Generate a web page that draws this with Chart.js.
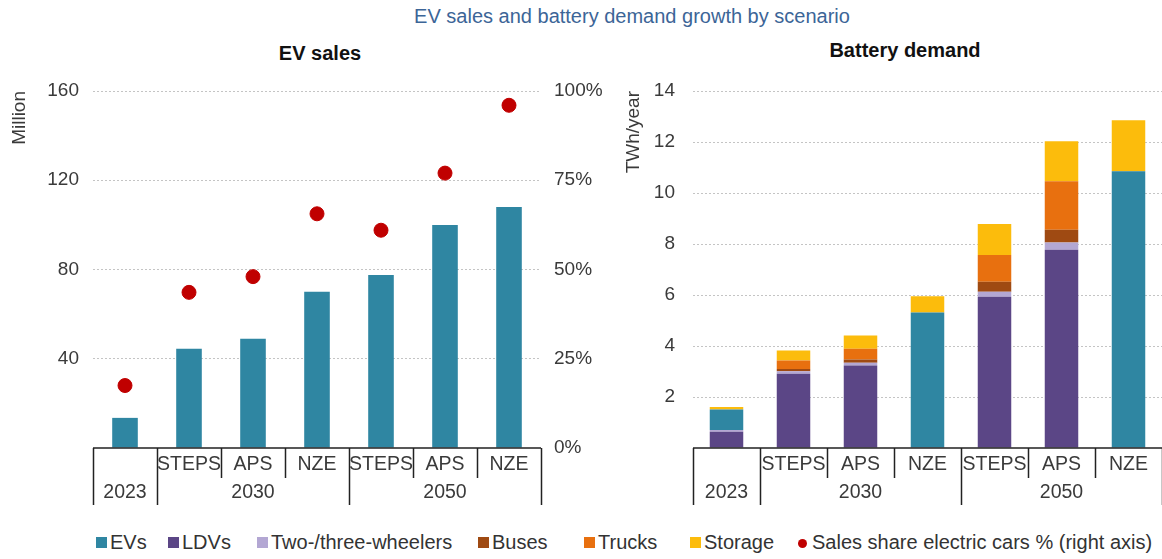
<!DOCTYPE html>
<html>
<head>
<meta charset="utf-8">
<script src="https://cdn.jsdelivr.net/npm/chart.js@4"></script>
<style>
  body { margin: 0; width: 1162px; height: 559px; overflow: hidden; background: #fff; font-family: "Liberation Sans", Arial, sans-serif; position: relative; }
  #title { position: absolute; top: 5px; left: 0; width: 1264px; text-align: center; color: #3c6597; font-size: 20px; }
  .sub { position: absolute; top: 42px; font-weight: bold; font-size: 20px; color: #111; text-align: center; }
  #wrapL { position: absolute; left: 0; top: 0; width: 620px; height: 520px; }
  #wrapR { position: absolute; left: 620px; top: 0; width: 542px; height: 520px; }
  #legend { position: absolute; top: 531px; left: 0; width: 1162px; height: 26px; font-size: 20px; color: #333; }
  .item { position: absolute; top: 0; white-space: nowrap; }
  .sw { display: inline-block; width: 11px; height: 11px; margin-right: 3px; vertical-align: 1px; }
  .dot { border-radius: 50%; width: 9px; height: 9px; margin-right: 5px; }
</style>
</head>
<body>
<div id="title">EV sales and battery demand growth by scenario</div>
<div class="sub" style="left:220px;width:200px;">EV sales</div>
<div class="sub" style="left:805px;width:200px;top:39px;">Battery demand</div>
<div id="wrapL"><canvas id="evChart"></canvas></div>
<div id="wrapR"><canvas id="batChart"></canvas></div>
<div id="legend"></div>
<script>
// categories
const xLabels = ['2023', '2030 STEPS', '2030 APS', '2030 NZE', '2050 STEPS', '2050 APS', '2050 NZE'];
const scenarioLabels = ['', 'STEPS', 'APS', 'NZE', 'STEPS', 'APS', 'NZE'];
const groupLabels = ['2023', '2030', '2050'];
const groupStart = [0, 1, 4];
const groupEnd = [0, 3, 6];

// EV sales (million) and sales share (%)
const evSales = [13.5, 44.5, 49, 70, 77.5, 100, 108];
const salesShare = [17.5, 43.6, 48, 65.6, 61, 77, 96];

// battery demand (TWh/year)
const batLDVs = [0.64, 2.91, 3.24, 0, 5.93, 7.77, 0];
const batTwoThree = [0.07, 0.1, 0.1, 0, 0.2, 0.29, 0];
const batBuses = [0, 0.09, 0.13, 0, 0.39, 0.5, 0];
const batTrucks = [0, 0.33, 0.42, 0, 1.05, 1.9, 0];
const batEVs = [0.8, 0, 0, 5.31, 0, 0, 10.85];
const batStorage = [0.1, 0.39, 0.52, 0.64, 1.21, 1.57, 2.0];

const leftTicks = [40, 80, 120, 160];

const colors = {
  ev: '#2f86a2', ldv: '#5b4686', two: '#b3a7d3', bus: '#9f4a12',
  truck: '#e8700f', storage: '#fcbc0c', red: '#c00000'
};

const tickFont = { family: 'Liberation Sans', size: 19 };
const tickColor = '#3a3a3a';

// draws the two-row category table under the x axis
const axisTable = {
  id: 'axisTable',
  afterDraw(chart) {
    const x = chart.scales.x, area = chart.chartArea, c = chart.ctx;
    const step = x.getPixelForValue(1) - x.getPixelForValue(0);
    const edge = i => x.getPixelForValue(i) - step / 2;
    const b = area.bottom;
    c.save();
    c.strokeStyle = '#222';
    c.lineWidth = 1.5;
    c.beginPath();
    c.moveTo(area.left, b); c.lineTo(area.right, b);
    for (let i = 0; i <= xLabels.length; i++) {
      const full = groupStart.includes(i) || i === xLabels.length;
      const px = Math.round(edge(i)) + 0.5;
      c.moveTo(px, b); c.lineTo(px, b + (full ? 57 : 30));
    }
    c.stroke();
    c.fillStyle = tickColor;
    c.font = '19.5px "Liberation Sans"';
    c.textAlign = 'center';
    c.textBaseline = 'middle';
    scenarioLabels.forEach((s, i) => c.fillText(s, x.getPixelForValue(i), b + 17));
    groupLabels.forEach((g, k) => {
      const mid = (x.getPixelForValue(groupStart[k]) + x.getPixelForValue(groupEnd[k])) / 2;
      c.fillText(g, mid, b + 45);
    });
    c.restore();
  }
};

const gridColor = ctx => ctx.tick.value === 0 ? 'rgba(0,0,0,0)' : '#c4c4c4';

new Chart(document.getElementById('evChart'), {
  data: {
    labels: xLabels,
    datasets: [
      { type: 'line', label: 'Sales share electric cars % (right axis)', data: salesShare, yAxisID: 'y1',
        showLine: false, pointRadius: 7, pointBackgroundColor: colors.red, pointBorderColor: colors.red, order: 0 },
      { type: 'bar', label: 'EVs', data: evSales, yAxisID: 'y', backgroundColor: colors.ev,
        barPercentage: 0.4, categoryPercentage: 1, order: 1 }
    ]
  },
  options: {
    responsive: true, maintainAspectRatio: false, animation: false,
    layout: { padding: { top: 91, left: 8, right: 0, bottom: 0 } },
    plugins: { legend: { display: false }, tooltip: { enabled: false } },
    scales: {
      x: { offset: true, grid: { display: false }, border: { display: false }, ticks: { display: false },
           afterFit: s => { s.height = 72; } },
      y: { min: 0, max: 160, afterBuildTicks: s => { s.ticks = [0].concat(leftTicks).map(v => ({ value: v })); },
           ticks: { font: tickFont, color: tickColor, padding: 14, callback: v => v === 0 ? '' : v },
           grid: { color: gridColor, drawTicks: false, lineWidth: 1 },
           border: { display: false, dash: [2, 2] },
           title: { display: true, text: 'Million', align: 'end', font: tickFont, color: tickColor, padding: 0 },
           afterFit: s => { s.width = 85; } },
      y1: { position: 'right', min: 0, max: 100,
            ticks: { stepSize: 25, font: tickFont, color: tickColor, padding: 13, callback: v => v + '%' },
            grid: { drawOnChartArea: false, drawTicks: false }, border: { display: false },
            afterFit: s => { s.width = 79; } }
    }
  },
  plugins: [axisTable]
});

new Chart(document.getElementById('batChart'), {
  type: 'bar',
  data: {
    labels: xLabels,
    datasets: [
      { label: 'LDVs', data: batLDVs, backgroundColor: colors.ldv },
      { label: 'Two-/three-wheelers', data: batTwoThree, backgroundColor: colors.two },
      { label: 'Buses', data: batBuses, backgroundColor: colors.bus },
      { label: 'Trucks', data: batTrucks, backgroundColor: colors.truck },
      { label: 'EVs', data: batEVs, backgroundColor: colors.ev },
      { label: 'Storage', data: batStorage, backgroundColor: colors.storage }
    ].map(d => Object.assign(d, { barPercentage: 0.5, categoryPercentage: 1 }))
  },
  options: {
    responsive: true, maintainAspectRatio: false, animation: false,
    layout: { padding: { top: 91, left: 2, right: 0, bottom: 0 } },
    plugins: { legend: { display: false }, tooltip: { enabled: false } },
    scales: {
      x: { stacked: true, offset: true, grid: { display: false }, border: { display: false }, ticks: { display: false },
           afterFit: s => { s.height = 72; } },
      y: { stacked: true, min: 0, max: 14,
           ticks: { stepSize: 2, font: tickFont, color: tickColor, padding: 18, callback: v => v === 0 ? '' : v },
           grid: { color: gridColor, drawTicks: false },
           border: { display: false, dash: [2, 2] },
           title: { display: true, text: 'TWh/year', align: 'end', font: tickFont, color: tickColor, padding: 0 },
           afterFit: s => { s.width = 71; } }
    }
  },
  plugins: [axisTable]
});

// shared legend
const legendItems = [
  ['EVs', colors.ev, 96, false], ['LDVs', colors.ldv, 168, false],
  ['Two-/three-wheelers', colors.two, 257, false], ['Buses', colors.bus, 478, false],
  ['Trucks', colors.truck, 584, false], ['Storage', colors.storage, 690, false],
  ['Sales share electric cars % (right axis)', colors.red, 798, true]
];
const legend = document.getElementById('legend');
legendItems.forEach(([text, col, left, dot]) => {
  const el = document.createElement('span');
  el.className = 'item';
  el.style.left = left + 'px';
  el.innerHTML = '<span class="sw' + (dot ? ' dot' : '') + '" style="background:' + col + '"></span>' + text;
  legend.appendChild(el);
});
</script>
</body>
</html>
